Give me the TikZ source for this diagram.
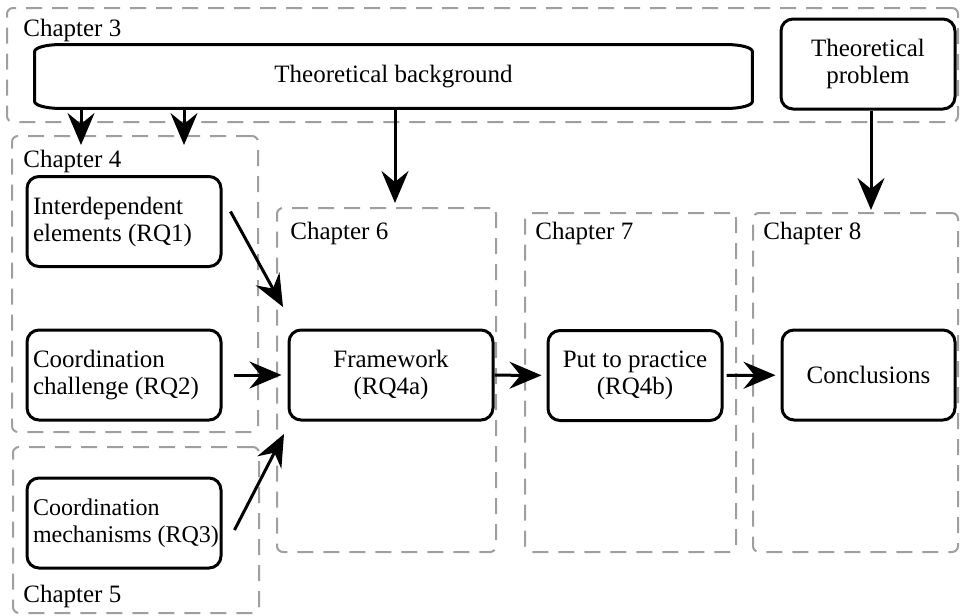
\documentclass[tikz,border=0pt]{standalone}
\usepackage{fontspec}
\setmainfont{Liberation Serif}
\usetikzlibrary{arrows.meta,calc,fit,positioning}

\tikzset{
  every node/.append style={font=\fontsize{12.5}{13.5}\selectfont},
  chapbox/.style={draw=gray!75, line width=1pt, dash pattern=on 8pt off 5pt,
    rounded corners=3pt, inner sep=0pt},
  chaplabel/.style={anchor=base west, inner sep=0pt},
  box/.style={draw, line width=1.5pt, rounded corners=6pt, inner sep=3pt,
    minimum height=45pt},
  leftbox/.style={box, minimum width=97pt, text width=91pt, align=left,
    execute at begin node={\spaceskip=0.25em\relax}},
  midbox/.style={box, align=center},
  arr/.style={line width=1.5pt, -{Stealth[length=16pt,width=13.5pt,inset=5.5pt]}},
}

\begin{document}
\begin{tikzpicture}[x=0.5pt,y=-0.5pt]
\useasboundingbox (0,0) rectangle (960,616);
% chapter frames
\node[chapbox, fit={(7,8) (958,122)}] (ch3) {};
\node[chapbox, fit={(12,136) (258,432)}] (ch4) {};
\node[chapbox, fit={(13,447) (259,613)}] (ch5) {};
\node[chapbox, fit={(277,208) (496,552)}] (ch6) {};
\node[chapbox, fit={(525,213) (736,552)}] (ch7) {};
\node[chapbox, fit={(753,213) (958,552)}] (ch8) {};
\node[chaplabel] (l3) at (23,36) {Chapter 3};
\node[chaplabel] (l4) at (23,167) {Chapter 4};
\node[chaplabel] (l5) at (23,602) {Chapter 5};
\node[chaplabel] (l6) at (290,239) {Chapter 6};
\node[chaplabel] (l7) at (535,239) {Chapter 7};
\node[chaplabel] (l8) at (763,239) {Chapter 8};

% boxes
\node[minimum width=358.5pt, minimum height=31.5pt] (bg) at (393.5,76.5) {Theoretical background};
\draw[line width=1.5pt] ([xshift=12.5pt]bg.north west) -- ([xshift=-12.5pt]bg.north east)
  arc[start angle=90, end angle=0, x radius=12.5pt, y radius=3.5pt]
  -- ([yshift=3.5pt]bg.south east)
  arc[start angle=0, end angle=-90, x radius=12.5pt, y radius=3.5pt]
  -- ([xshift=12.5pt]bg.south west)
  arc[start angle=270, end angle=180, x radius=12.5pt, y radius=3.5pt]
  -- ([yshift=-3.5pt]bg.north west)
  arc[start angle=180, end angle=90, x radius=12.5pt, y radius=3.5pt] -- cycle;
\node[midbox, minimum width=87pt] (prob) at (868,64) {Theoretical\\problem};
\node[leftbox] (rq1) at (124,221.5) {Interdependent\\elements~(RQ1)};
\node[leftbox] (rq2) at (124,375) {Coordination\\challenge~(RQ2)};
\node[leftbox, inner sep=1pt, font=\fontsize{12}{13.5}\selectfont] (rq3) at (124,523) {Coordination\\mechanisms~(RQ3)};
\node[midbox, minimum width=102pt] (fw) at (391,375) {Framework\\(RQ4a)};
\node[midbox, minimum width=87pt] (prac) at (635,375.5) {Put to practice\\(RQ4b)};
\node[midbox, minimum width=86.5pt] (concl) at (868.5,375) {Conclusions};

% arrows
\coordinate (t1) at (81,145);
\coordinate (t2) at (184,145);
\coordinate (t3) at (395,203);
\coordinate (t4) at (871,210);
\coordinate (t5) at (283,307);
\coordinate (t7) at (284,434);
\draw[arr] (bg.south -| t1) -- (t1);
\draw[arr] (bg.south -| t2) -- (t2);
\draw[arr] (bg.south -| t3) -- (t3);
\draw[arr] (prob.south -| t4) -- (t4);
\draw[arr] ($(rq1.east)+(8,-10)$) -- (t5);
\draw[arr, shorten <=5.5pt, shorten >=3pt] (rq2) -- (fw);
\draw[arr] ($(rq3.east)+(12,7)$) -- (t7);
\draw[arr, shorten >=2.5pt] (fw) -- (prac);
\draw[arr, shorten <=1.5pt, shorten >=2.5pt] (prac) -- (concl);
\end{tikzpicture}
\end{document}
